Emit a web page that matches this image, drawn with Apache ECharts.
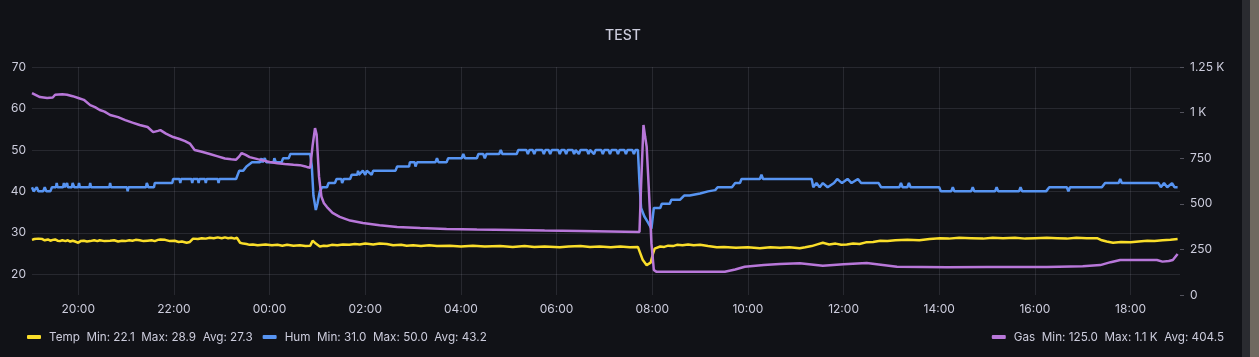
<!DOCTYPE html>
<html>
<head>
<meta charset="utf-8">
<script src="https://cdn.jsdelivr.net/npm/echarts@6/dist/echarts.min.js"></script>
<style>
html,body{margin:0;padding:0;background:#111217;}
#chart{width:1242px;height:357px;position:absolute;left:0;top:0;}
#sb{position:absolute;left:1242px;top:0;width:8px;height:357px;background:#2a2b30;}
#ph{position:absolute;left:1250px;top:0;width:9px;height:357px;background:#6e695f;}
</style>
</head>
<body>
<div id="chart"></div><div id="sb"></div><div id="ph"></div>
<script>
const xTickLabels = ["20:00","22:00","00:00","02:00","04:00","06:00","08:00","10:00","12:00","14:00","16:00","18:00"];
const leftTicks = [20,30,40,50,60,70];
const rightTicks = [0,250,500,750,1000,1250];
const seriesNames = ["Temp","Hum","Gas"];
const tempStats = ["22.1","28.9","27.3"];
const humStats = ["31.0","50.0","43.2"];
const gasStats = ["125.0","1.1 K","404.5"];

const temp = [["19:02",28.3],["19:05",28.5],["19:07",28.3],["19:10",28.6],["19:12",28.4],["19:15",28.5],["19:18",28.2],["19:22",28.4],["19:25",28.1],["19:28",28.3],["19:31",28.4],["19:34",28.1],["19:37",28.0],["19:40",28.2],["19:44",28.0],["19:47",28.2],["19:50",27.9],["19:53",28.1],["19:56",27.9],["20:00",27.6],["20:03",28.0],["20:07",28.1],["20:11",27.9],["20:15",28.0],["20:20",28.2],["20:24",28.0],["20:27",28.2],["20:33",28.0],["20:40",28.1],["20:45",28.2],["20:50",27.9],["20:55",28.1],["20:59",28.0],["21:04",28.2],["21:08",28.1],["21:12",28.3],["21:17",28.2],["21:22",28.0],["21:27",28.1],["21:32",28.2],["21:36",28.0],["21:40",28.3],["21:43",28.4],["21:49",28.3],["21:55",28.0],["22:01",28.1],["22:06",27.8],["22:10",27.9],["22:16",27.6],["22:20",27.8],["22:24",28.6],["22:30",28.5],["22:35",28.7],["22:40",28.6],["22:45",28.8],["22:50",28.7],["22:55",28.9],["23:00",28.7],["23:04",28.9],["23:08",28.7],["23:12",28.8],["23:16",28.6],["23:19",28.8],["23:23",27.6],["23:27",27.4],["23:31",27.3],["23:35",27.1],["23:39",27.2],["23:45",27.0],["23:55",27.2],["00:03",27.0],["00:10",27.1],["00:16",26.9],["00:22",27.1],["00:30",26.9],["00:38",27.0],["00:45",26.8],["00:51",26.9],["00:54",28.1],["00:58",27.4],["01:03",26.7],["01:08",26.9],["01:12",26.8],["01:18",27.1],["01:25",27.0],["01:32",27.2],["01:40",27.1],["01:47",27.3],["01:53",27.2],["02:00",27.4],["02:10",27.2],["02:18",27.4],["02:27",27.3],["02:35",27.0],["02:45",27.1],["02:52",26.9],["03:00",27.0],["03:10",26.8],["03:20",27.0],["03:30",26.8],["03:46",26.9],["04:00",26.7],["04:15",26.9],["04:30",26.7],["04:49",26.8],["05:05",26.6],["05:20",26.8],["05:32",26.6],["05:45",26.7],["06:04",26.5],["06:15",26.7],["06:30",26.8],["06:42",26.6],["06:54",26.7],["07:08",26.5],["07:20",26.7],["07:32",26.5],["07:42",26.6],["07:44",26.2],["07:48",23.5],["07:53",22.2],["07:58",22.8],["08:01",25.0],["08:03",26.2],["08:10",26.7],["08:15",26.6],["08:20",26.9],["08:26",26.8],["08:31",27.1],["08:38",27.0],["08:45",27.2],["08:52",27.0],["09:00",27.1],["09:10",26.8],["09:21",26.5],["09:30",26.6],["09:45",26.4],["10:00",26.5],["10:15",26.3],["10:28",26.5],["10:40",26.4],["10:52",26.5],["11:05",26.3],["11:12",26.5],["11:20",26.8],["11:27",27.2],["11:34",27.6],["11:42",27.2],["11:50",27.4],["11:57",27.1],["12:04",27.2],["12:12",27.4],["12:20",27.3],["12:28",27.7],["12:37",27.8],["12:46",28.1],["12:55",28.0],["13:05",28.2],["13:20",28.3],["13:35",28.2],["13:48",28.5],["14:01",28.7],["14:12",28.6],["14:25",28.8],["14:40",28.7],["14:55",28.6],["15:07",28.8],["15:20",28.7],["15:35",28.8],["15:48",28.6],["16:00",28.7],["16:15",28.8],["16:28",28.7],["16:40",28.6],["16:52",28.8],["17:05",28.7],["17:18",28.7],["17:24",28.2],["17:30",27.9],["17:38",27.6],["17:48",27.8],["18:00",27.7],["18:10",27.9],["18:21",28.1],["18:30",28.0],["18:40",28.2],["18:50",28.3],["18:59",28.5]];

const hum = [["19:02",41],["19:04",40],["19:08",41],["19:10",40],["19:16",40],["19:18",41],["19:20",40],["19:25",40],["19:27",41],["19:32",41],["19:33",42],["19:34",41],["19:41",41],["19:42",42],["19:43",41],["19:45",41],["19:46",42],["19:47",41],["19:52",41],["19:53",42],["19:55",41],["20:00",41],["20:01",42],["20:02",41],["20:14",41],["20:15",42],["20:16",41],["20:39",41],["20:40",42],["20:41",41],["21:01",41],["21:02",40],["21:03",41],["21:25",41],["21:26",42],["21:28",41],["21:35",41],["21:36",42],["21:58",42],["21:59",43],["22:07",43],["22:08",42],["22:09",43],["22:22",43],["22:23",42],["22:24",43],["22:30",43],["22:31",42],["22:32",43],["22:39",43],["22:40",42],["22:41",43],["22:55",43],["22:56",42],["22:57",43],["23:18",43],["23:22",45],["23:27",45],["23:31",46],["23:38",47],["23:48",47],["23:50",48],["23:51",47],["23:54",48],["23:56",47],["00:05",47],["00:06",48],["00:08",47],["00:15",47],["00:17",48],["00:24",48],["00:26",49],["00:51",49],["00:53",46],["00:55",39],["00:58",35.5],["01:00",37],["01:03",40],["01:06",41],["01:12",41],["01:14",42],["01:22",42],["01:24",43],["01:30",43],["01:31",42],["01:33",43],["01:41",43],["01:43",44],["01:50",44],["01:51",45],["01:52",44],["01:57",45],["02:00",44],["02:02",45],["02:08",44],["02:10",45],["02:38",45],["02:40",46],["02:55",46],["02:56",47],["03:02",47],["03:03",46],["03:05",47],["03:28",47],["03:30",48],["03:32",47],["03:42",47],["03:44",48],["04:01",48],["04:03",49],["04:05",48],["04:20",48],["04:22",49],["04:28",49],["04:30",48],["04:32",49],["04:48",49],["04:50",50],["04:52",49],["05:10",49],["05:12",50],["05:22",50],["05:24",49],["05:26",50],["05:30",50],["05:32",49],["05:34",50],["05:42",50],["05:44",49],["05:46",50],["05:50",50],["05:52",49],["05:54",50],["06:02",50],["06:04",49],["06:06",50],["06:10",50],["06:12",49],["06:14",50],["06:20",50],["06:22",49],["06:24",50],["06:28",49],["06:30",50],["06:38",50],["06:40",49],["06:42",50],["06:47",49],["06:49",50],["06:56",50],["06:58",49],["07:00",50],["07:05",50],["07:07",49],["07:09",50],["07:15",50],["07:17",49],["07:19",50],["07:25",50],["07:27",49],["07:29",50],["07:35",50],["07:37",49],["07:39",50],["07:42",50],["07:44",42],["07:46",36],["07:50",34],["07:55",32.4],["07:59",31],["08:02",36],["08:10",36],["08:12",37],["08:22",37],["08:24",38],["08:35",38],["08:40",39],["08:47",39],["09:00",39.5],["09:10",40],["09:19",40.3],["09:22",41],["09:40",41],["09:44",42],["09:50",42],["09:52",43],["10:15",43],["10:17",44],["10:19",43],["10:53",43],["11:20",43],["11:22",41],["11:26",42],["11:30",41],["11:34",42],["11:40",41],["11:48",42],["11:52",43],["11:58",42],["12:05",43],["12:10",42],["12:18",43],["12:22",42],["12:44",42],["12:47",41],["13:10",41],["13:12",42],["13:14",41],["13:20",41],["13:22",42],["13:24",41],["14:00",41],["14:02",40],["14:15",40],["14:17",41],["14:19",40],["14:40",40],["14:42",41],["14:44",40],["15:10",40],["15:12",41],["15:14",40],["15:40",40],["15:42",41],["15:44",40],["16:14",40],["16:18",41],["16:40",41],["16:42",40],["16:44",41],["17:24",41],["17:28",42],["17:45",42],["17:47",43],["17:49",42],["18:35",42],["18:38",41],["18:42",42],["18:46",41],["18:52",42],["18:55",41],["18:59",41]];

const gas = [["19:02",1107],["19:12",1085],["19:21",1080],["19:28",1083],["19:31",1098],["19:33",1102],["19:40",1100],["19:46",1098],["19:53",1090],["20:00",1080],["20:07",1070],["20:15",1041],["20:21",1030],["20:27",1014],["20:33",1005],["20:40",987],["20:50",975],["20:59",959],["21:08",945],["21:17",932],["21:27",921],["21:34",893],["21:40",900],["21:43",904],["21:50",885],["21:59",866],["22:07",855],["22:14",844],["22:20",830],["22:26",795],["22:35",785],["22:45",773],["22:55",760],["23:04",748],["23:12",744],["23:18",742],["23:22",760],["23:25",778],["23:30",768],["23:35",756],["23:45",745],["00:00",729],["00:10",722],["00:19",718],["00:30",714],["00:38",712],["00:45",705],["00:48",700],["00:51",698],["00:54",820],["00:57",915],["00:59",880],["01:02",650],["01:05",540],["01:08",505],["01:12",482],["01:19",450],["01:28",428],["01:41",408],["01:57",395],["02:18",383],["02:40",373],["03:09",367],["03:42",362],["04:20",359],["05:05",356],["05:45",353],["06:29",351],["07:07",348],["07:44",345],["07:46",600],["07:49",932],["07:51",870],["07:53",813],["07:56",557],["07:59",283],["08:02",137],["08:05",128],["09:31",128],["09:44",140],["09:56",155],["10:20",164],["10:40",170],["11:05",174],["11:34",160],["12:00",168],["12:29",175],["13:07",155],["14:10",152],["15:00",153],["16:15",153],["17:00",157],["17:22",164],["17:35",180],["17:47",192],["18:33",192],["18:40",183],["18:48",186],["18:53",192],["18:59",225]];

function toHours(s){
  const p = s.split(":");
  let h = parseInt(p[0],10) + parseInt(p[1],10)/60;
  if (h < 19) h += 24;
  return h;
}
function conv(arr){ return arr.map(d => [toHours(d[0]), d[1]]); }

const xMin = toHours("19:02");
const xMax = xMin + 24;
const xTickValues = xTickLabels.map(toHours);

const FONT = "Inter, 'Noto Sans', sans-serif";
const TXT = "#ccccdc";
const GRID = "rgba(204,204,220,0.12)";
const stats = {Temp: tempStats, Hum: humStats, Gas: gasStats};
const legendFmt = n => n + "  Min: " + stats[n][0] + "  Max: " + stats[n][1] + "  Avg: " + stats[n][2];

const chart = echarts.init(document.getElementById("chart"), null, {renderer: "canvas"});
chart.setOption({
  backgroundColor: "#111217",
  animation: false,
  textStyle: {fontFamily: FONT},
  title: {
    text: "TEST", left: 618, top: 24, textAlign: "center",
    textStyle: {color: TXT, fontSize: 14, fontWeight: 500, fontFamily: FONT}
  },
  grid: {left: 32, right: 62, top: 67, bottom: 62, containLabel: false},
  legend: [
    {
      data: [seriesNames[0], seriesNames[1]], left: 22, top: 326,
      icon: "roundRect", itemWidth: 14, itemHeight: 4, itemGap: 10,
      textStyle: {color: TXT, fontSize: 11.7, fontFamily: FONT, padding: [0,0,0,3]},
      formatter: legendFmt
    },
    {
      data: [seriesNames[2]], right: 13, top: 326,
      icon: "roundRect", itemWidth: 14, itemHeight: 4,
      textStyle: {color: TXT, fontSize: 11.7, fontFamily: FONT, padding: [0,0,0,3]},
      formatter: legendFmt
    }
  ],
  xAxis: {
    type: "value", min: xMin, max: xMax,
    axisLine: {show: false},
    axisTick: {show: false, customValues: xTickValues},
    axisLabel: {
      customValues: xTickValues, color: TXT, fontSize: 12, margin: 8, fontFamily: FONT,
      formatter: v => { const h = Math.round(v) % 24; return (h < 10 ? "0" : "") + h + ":00"; }
    },
    splitLine: {show: true, lineStyle: {color: GRID, width: 1}}
  },
  yAxis: [
    {
      type: "value", min: 15, max: 70, position: "left",
      axisLine: {show: false},
      axisTick: {show: false, customValues: leftTicks},
      axisLabel: {customValues: leftTicks, color: TXT, fontSize: 12, margin: 6, fontFamily: FONT},
      splitLine: {show: true, lineStyle: {color: GRID, width: 1}}
    },
    {
      type: "value", min: 0, max: 1250, interval: 250, position: "right",
      axisLine: {show: false},
      axisTick: {show: true, length: 4, lineStyle: {color: "rgba(204,204,220,0.35)"}},
      axisLabel: {
        color: TXT, fontSize: 12, margin: 10, fontFamily: FONT,
        formatter: v => v >= 1000 ? (v/1000) + " K" : String(v)
      },
      splitLine: {show: false}
    }
  ],
  series: [
    {name: seriesNames[0], type: "line", yAxisIndex: 0, data: conv(temp), showSymbol: false,
     lineStyle: {color: "#FADE2A", width: 2.5}, itemStyle: {color: "#FADE2A"}},
    {name: seriesNames[1], type: "line", yAxisIndex: 0, data: conv(hum), showSymbol: false,
     lineStyle: {color: "#5794F2", width: 2.5}, itemStyle: {color: "#5794F2"}},
    {name: seriesNames[2], type: "line", yAxisIndex: 1, data: conv(gas), showSymbol: false,
     lineStyle: {color: "#B877D9", width: 2.5}, itemStyle: {color: "#B877D9"}}
  ]
});
</script>
</body>
</html>
